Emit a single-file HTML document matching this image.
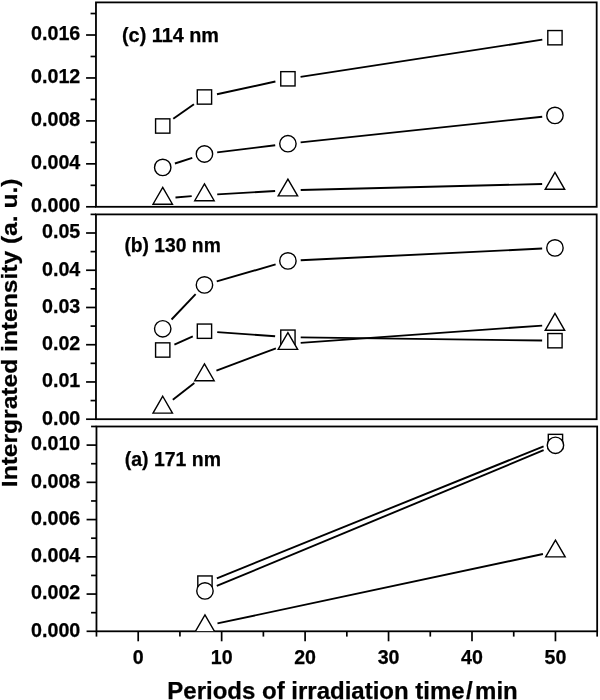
<!DOCTYPE html>
<html><head><meta charset="utf-8"><title>Intergrated intensity vs irradiation time</title>
<style>html,body{margin:0;padding:0;background:#fff}svg{display:block}text{stroke:#000;stroke-width:0.25px;font-family:"Liberation Sans",Arial,Helvetica,sans-serif;font-weight:bold;fill:#000}</style></head><body>
<svg width="600" height="700" viewBox="0 0 600 700">
<rect width="600" height="700" fill="#fff"/>
<defs>
<clipPath id="clipc"><rect x="95.97" y="2.40" width="500.70" height="204.40"/></clipPath>
<clipPath id="clipb"><rect x="95.97" y="214.40" width="500.70" height="204.80"/></clipPath>
<clipPath id="clipa"><rect x="96.47" y="426.50" width="500.70" height="204.80"/></clipPath>
</defs>
<g id="panel-c">
<g stroke="#000" stroke-width="1.70" fill="none">
<line x1="86.07" y1="206.80" x2="95.97" y2="206.80"/>
<line x1="86.07" y1="163.85" x2="95.97" y2="163.85"/>
<line x1="86.07" y1="120.90" x2="95.97" y2="120.90"/>
<line x1="86.07" y1="77.96" x2="95.97" y2="77.96"/>
<line x1="86.07" y1="35.01" x2="95.97" y2="35.01"/>
<line x1="90.57" y1="185.33" x2="95.97" y2="185.33"/>
<line x1="90.57" y1="142.38" x2="95.97" y2="142.38"/>
<line x1="90.57" y1="99.43" x2="95.97" y2="99.43"/>
<line x1="90.57" y1="56.48" x2="95.97" y2="56.48"/>
<line x1="90.57" y1="13.53" x2="95.97" y2="13.53"/>
</g>
<rect x="95.97" y="2.40" width="500.70" height="204.40" fill="none" stroke="#000" stroke-width="1.80"/>
<text transform="translate(80.3,212.10) scale(1.0,1)" font-size="19.7" text-anchor="end">0.000</text>
<text transform="translate(80.3,169.15) scale(1.0,1)" font-size="19.7" text-anchor="end">0.004</text>
<text transform="translate(80.3,126.20) scale(1.0,1)" font-size="19.7" text-anchor="end">0.008</text>
<text transform="translate(80.3,83.26) scale(1.0,1)" font-size="19.7" text-anchor="end">0.012</text>
<text transform="translate(80.3,40.31) scale(1.0,1)" font-size="19.7" text-anchor="end">0.016</text>
<g clip-path="url(#clipc)">
<g stroke="#000" stroke-width="1.90" fill="none">
<line x1="173.25" y1="118.69" x2="193.95" y2="104.31"/>
<line x1="216.97" y1="94.27" x2="275.40" y2="81.53"/>
<line x1="300.56" y1="76.85" x2="542.30" y2="39.65"/>
<line x1="174.92" y1="163.49" x2="192.27" y2="157.91"/>
<line x1="217.16" y1="152.43" x2="275.21" y2="145.27"/>
<line x1="300.64" y1="142.35" x2="542.22" y2="116.75"/>
<line x1="175.49" y1="197.53" x2="191.70" y2="196.17"/>
<line x1="217.24" y1="194.36" x2="275.13" y2="191.04"/>
<line x1="300.71" y1="189.98" x2="542.15" y2="184.02"/>
</g>
<g stroke="#000" stroke-width="1.40" fill="#fff" stroke-linejoin="miter">
<rect x="155.58" y="118.85" width="14.30" height="14.30"/>
<rect x="197.31" y="89.85" width="14.30" height="14.30"/>
<rect x="280.76" y="71.65" width="14.30" height="14.30"/>
<rect x="547.80" y="30.55" width="14.30" height="14.30"/>
<circle cx="162.73" cy="167.40" r="8.2"/>
<circle cx="204.46" cy="154.00" r="8.2"/>
<circle cx="287.91" cy="143.70" r="8.2"/>
<circle cx="554.95" cy="115.40" r="8.2"/>
<polygon points="162.73,187.37 172.46,204.22 153.01,204.22"/>
<polygon points="204.46,183.87 214.19,200.72 194.73,200.72"/>
<polygon points="287.91,179.07 297.64,195.92 278.18,195.92"/>
<polygon points="554.95,172.47 564.68,189.32 545.22,189.32"/>
</g>
</g>
<text x="122.00" y="41.70" font-size="19.4" textLength="97.0" lengthAdjust="spacingAndGlyphs">(c) 114 nm</text>
</g>
<g id="panel-b">
<g stroke="#000" stroke-width="1.70" fill="none">
<line x1="86.07" y1="419.20" x2="95.97" y2="419.20"/>
<line x1="86.07" y1="381.96" x2="95.97" y2="381.96"/>
<line x1="86.07" y1="344.72" x2="95.97" y2="344.72"/>
<line x1="86.07" y1="307.48" x2="95.97" y2="307.48"/>
<line x1="86.07" y1="270.24" x2="95.97" y2="270.24"/>
<line x1="86.07" y1="233.00" x2="95.97" y2="233.00"/>
<line x1="90.57" y1="400.58" x2="95.97" y2="400.58"/>
<line x1="90.57" y1="363.34" x2="95.97" y2="363.34"/>
<line x1="90.57" y1="326.10" x2="95.97" y2="326.10"/>
<line x1="90.57" y1="288.86" x2="95.97" y2="288.86"/>
<line x1="90.57" y1="251.62" x2="95.97" y2="251.62"/>
<line x1="90.57" y1="214.38" x2="95.97" y2="214.38"/>
</g>
<rect x="95.97" y="214.40" width="500.70" height="204.80" fill="none" stroke="#000" stroke-width="1.80"/>
<text transform="translate(80.3,424.50) scale(1.0,1)" font-size="19.7" text-anchor="end">0.00</text>
<text transform="translate(80.3,387.26) scale(1.0,1)" font-size="19.7" text-anchor="end">0.01</text>
<text transform="translate(80.3,350.02) scale(1.0,1)" font-size="19.7" text-anchor="end">0.02</text>
<text transform="translate(80.3,312.78) scale(1.0,1)" font-size="19.7" text-anchor="end">0.03</text>
<text transform="translate(80.3,275.54) scale(1.0,1)" font-size="19.7" text-anchor="end">0.04</text>
<text transform="translate(80.3,238.30) scale(1.0,1)" font-size="19.7" text-anchor="end">0.05</text>
<g clip-path="url(#clipb)">
<g stroke="#000" stroke-width="1.90" fill="none">
<line x1="174.41" y1="344.74" x2="192.79" y2="336.46"/>
<line x1="217.23" y1="332.12" x2="275.14" y2="336.28"/>
<line x1="300.71" y1="337.37" x2="542.15" y2="340.53"/>
<line x1="171.55" y1="319.52" x2="195.64" y2="294.18"/>
<line x1="216.76" y1="281.36" x2="275.61" y2="264.44"/>
<line x1="300.69" y1="260.28" x2="542.17" y2="248.52"/>
<line x1="172.84" y1="399.65" x2="194.35" y2="382.95"/>
<line x1="216.44" y1="370.60" x2="275.93" y2="348.30"/>
<line x1="300.68" y1="342.89" x2="542.18" y2="325.61"/>
</g>
<g stroke="#000" stroke-width="1.40" fill="#fff" stroke-linejoin="miter">
<rect x="155.58" y="342.85" width="14.30" height="14.30"/>
<rect x="197.31" y="324.05" width="14.30" height="14.30"/>
<rect x="280.76" y="330.05" width="14.30" height="14.30"/>
<rect x="547.80" y="333.55" width="14.30" height="14.30"/>
<circle cx="162.73" cy="328.80" r="8.2"/>
<circle cx="204.46" cy="284.90" r="8.2"/>
<circle cx="287.91" cy="260.90" r="8.2"/>
<circle cx="554.95" cy="247.90" r="8.2"/>
<polygon points="162.73,396.27 172.46,413.12 153.01,413.12"/>
<polygon points="204.46,363.87 214.19,380.71 194.73,380.71"/>
<polygon points="287.91,332.57 297.64,349.41 278.18,349.41"/>
<polygon points="554.95,313.47 564.68,330.31 545.22,330.31"/>
</g>
</g>
<text x="124.40" y="251.70" font-size="19.4" textLength="96.4" lengthAdjust="spacingAndGlyphs">(b) 130 nm</text>
</g>
<g id="panel-a">
<g stroke="#000" stroke-width="1.70" fill="none">
<line x1="86.57" y1="631.30" x2="96.47" y2="631.30"/>
<line x1="86.57" y1="594.06" x2="96.47" y2="594.06"/>
<line x1="86.57" y1="556.82" x2="96.47" y2="556.82"/>
<line x1="86.57" y1="519.58" x2="96.47" y2="519.58"/>
<line x1="86.57" y1="482.34" x2="96.47" y2="482.34"/>
<line x1="86.57" y1="445.10" x2="96.47" y2="445.10"/>
<line x1="91.07" y1="612.68" x2="96.47" y2="612.68"/>
<line x1="91.07" y1="575.44" x2="96.47" y2="575.44"/>
<line x1="91.07" y1="538.20" x2="96.47" y2="538.20"/>
<line x1="91.07" y1="500.96" x2="96.47" y2="500.96"/>
<line x1="91.07" y1="463.72" x2="96.47" y2="463.72"/>
<line x1="91.07" y1="426.48" x2="96.47" y2="426.48"/>
<line x1="138.20" y1="631.30" x2="138.20" y2="641.30"/>
<line x1="221.65" y1="631.30" x2="221.65" y2="641.30"/>
<line x1="305.10" y1="631.30" x2="305.10" y2="641.30"/>
<line x1="388.55" y1="631.30" x2="388.55" y2="641.30"/>
<line x1="472.00" y1="631.30" x2="472.00" y2="641.30"/>
<line x1="555.45" y1="631.30" x2="555.45" y2="641.30"/>
<line x1="96.47" y1="631.30" x2="96.47" y2="636.60"/>
<line x1="179.92" y1="631.30" x2="179.92" y2="636.60"/>
<line x1="263.38" y1="631.30" x2="263.38" y2="636.60"/>
<line x1="346.83" y1="631.30" x2="346.83" y2="636.60"/>
<line x1="430.28" y1="631.30" x2="430.28" y2="636.60"/>
<line x1="513.73" y1="631.30" x2="513.73" y2="636.60"/>
<line x1="597.17" y1="631.30" x2="597.17" y2="636.60"/>
</g>
<rect x="96.47" y="426.50" width="500.70" height="204.80" fill="none" stroke="#000" stroke-width="1.80"/>
<text transform="translate(80.3,636.60) scale(1.0,1)" font-size="19.7" text-anchor="end">0.000</text>
<text transform="translate(80.3,599.36) scale(1.0,1)" font-size="19.7" text-anchor="end">0.002</text>
<text transform="translate(80.3,562.12) scale(1.0,1)" font-size="19.7" text-anchor="end">0.004</text>
<text transform="translate(80.3,524.88) scale(1.0,1)" font-size="19.7" text-anchor="end">0.006</text>
<text transform="translate(80.3,487.64) scale(1.0,1)" font-size="19.7" text-anchor="end">0.008</text>
<text transform="translate(80.3,450.40) scale(1.0,1)" font-size="19.7" text-anchor="end">0.010</text>
<g clip-path="url(#clipa)">
<g stroke="#000" stroke-width="1.90" fill="none">
<line x1="216.83" y1="578.31" x2="543.58" y2="446.29"/>
<line x1="216.78" y1="585.99" x2="543.63" y2="450.21"/>
<line x1="217.48" y1="623.43" x2="542.93" y2="553.97"/>
</g>
<g stroke="#000" stroke-width="1.40" fill="#fff" stroke-linejoin="miter">
<rect x="197.81" y="575.95" width="14.30" height="14.30"/>
<rect x="548.30" y="434.35" width="14.30" height="14.30"/>
<circle cx="204.96" cy="590.90" r="8.2"/>
<circle cx="555.45" cy="445.30" r="8.2"/>
<polygon points="204.96,614.87 214.69,631.72 195.23,631.72"/>
<polygon points="555.45,540.07 565.18,556.91 545.72,556.91"/>
</g>
</g>
<text x="124.80" y="466.00" font-size="19.4" textLength="96.2" lengthAdjust="spacingAndGlyphs">(a) 171 nm</text>
</g>
<text transform="translate(138.20,664.0) scale(1.0,1)" font-size="19.6" text-anchor="middle">0</text>
<text transform="translate(221.65,664.0) scale(1.0,1)" font-size="19.6" text-anchor="middle">10</text>
<text transform="translate(305.10,664.0) scale(1.0,1)" font-size="19.6" text-anchor="middle">20</text>
<text transform="translate(388.55,664.0) scale(1.0,1)" font-size="19.6" text-anchor="middle">30</text>
<text transform="translate(472.00,664.0) scale(1.0,1)" font-size="19.6" text-anchor="middle">40</text>
<text transform="translate(555.45,664.0) scale(1.0,1)" font-size="19.6" text-anchor="middle">50</text>
<text x="167.3" y="698.9" font-size="24">Periods of irradiation time<tspan dx="1.3">/</tspan><tspan dx="2.4">min</tspan></text>
<text transform="translate(17.2,487.2) rotate(-90)" font-size="22.3" textLength="308.7" lengthAdjust="spacingAndGlyphs">Intergrated intensity (a. u.)</text>
</svg></body></html>
